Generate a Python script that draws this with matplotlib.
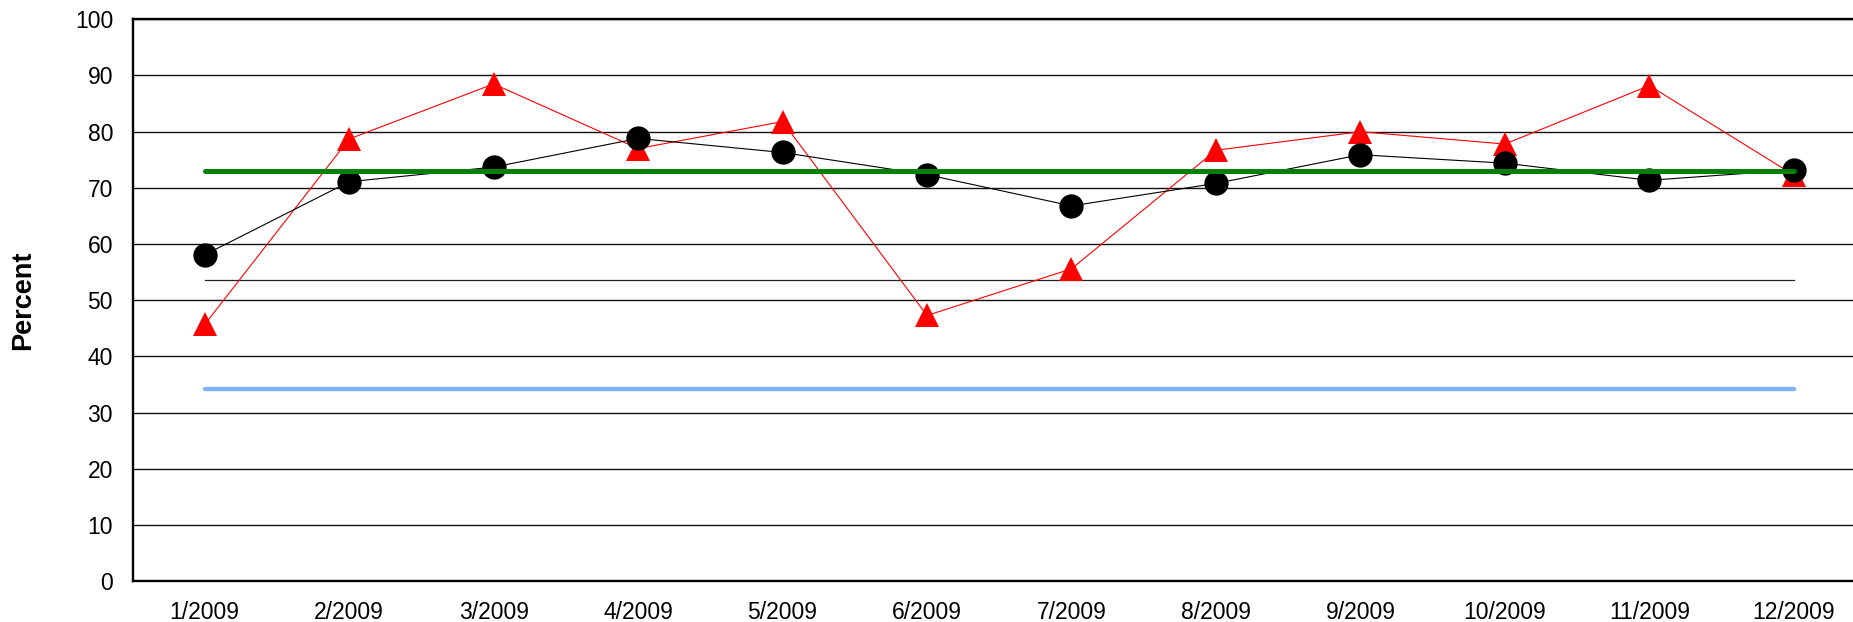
import matplotlib
matplotlib.use("Agg")
import matplotlib.pyplot as plt

# Monthly values (percent)
months = ["1/2009", "2/2009", "3/2009", "4/2009", "5/2009", "6/2009",
          "7/2009", "8/2009", "9/2009", "10/2009", "11/2009", "12/2009"]
series_circle = [58.1, 71.1, 73.7, 78.8, 76.3, 72.35, 66.8, 70.8, 75.9, 74.4, 71.35, 73.2]
series_triangle = [45.7, 78.7, 88.5, 77.0, 81.8, 47.3, 55.6, 76.7, 80.0, 77.8, 88.2, 72.3]

# Reference levels
center_level = 73.0
lower_level = 53.6
lower_level_2 = 34.2

y_ticks = list(range(0, 101, 10))

plt.rcParams["font.family"] = ["Liberation Sans", "DejaVu Sans"]

fig = plt.figure(figsize=(18.53, 6.22), dpi=100)
ax = fig.add_axes([132.5 / 1853, (622 - 581.3) / 622,
                   (1866 - 132.5) / 1853, (581.3 - 19.3) / 622])

x = list(range(len(months)))
x_span = [x[0], x[-1]]

ax.plot(x_span, [lower_level_2] * 2, color="#7fb2f7", lw=3.2,
        solid_capstyle="round", zorder=3)
ax.plot(x_span, [lower_level] * 2, color="#222222", lw=0.9, zorder=3)

ax.plot(x, series_triangle, color="#ff0000", lw=0.8, marker="^",
        markersize=17.5, markeredgewidth=0, zorder=4)
ax.plot(x, series_circle, color="#000000", lw=0.8, marker="o",
        markersize=17.5, markeredgewidth=0, zorder=5)

ax.plot(x_span, [center_level] * 2, color="#008000", lw=3.6,
        solid_capstyle="round", zorder=6)

ax.set_xlim(-0.5, len(months) - 0.5)
ax.set_ylim(0, 100)
ax.set_yticks(y_ticks)
ax.set_xticks(x)
ax.set_xticklabels(months)

ax.yaxis.grid(True, color="#111111", lw=1.0)
ax.set_axisbelow(True)
ax.tick_params(axis="both", length=0, labelsize=16.5)
ax.tick_params(axis="y", pad=14)
ax.tick_params(axis="x", pad=14)

for side in ("top", "left", "bottom"):
    ax.spines[side].set_linewidth(1.7)
    ax.spines[side].set_color("black")
ax.spines["right"].set_visible(False)

ax.set_ylabel("Percent", fontsize=19.5, fontweight="bold", labelpad=28)

fig.savefig("out.png", dpi=100)
